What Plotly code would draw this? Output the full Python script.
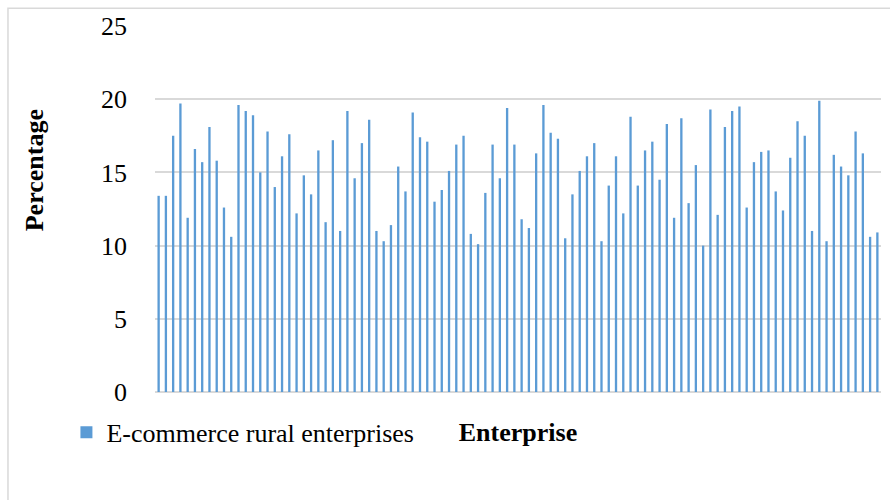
import plotly.graph_objects as go

# Share of e-commerce activity for each rural enterprise (percent)
enterprise_ids = list(range(1, 101))
ecommerce_pct = [
    13.4, 13.4, 17.5, 19.7, 11.9, 16.6, 15.7, 18.1, 15.8, 12.6,
    10.6, 19.6, 19.2, 18.9, 15.0, 17.8, 14.0, 16.1, 17.6, 12.2,
    14.8, 13.5, 16.5, 11.6, 17.2, 11.0, 19.2, 14.6, 17.0, 18.6,
    11.0, 10.3, 11.4, 15.4, 13.7, 19.1, 17.4, 17.1, 13.0, 13.8,
    15.1, 16.9, 17.5, 10.8, 10.1, 13.6, 16.9, 14.6, 19.4, 16.9,
    11.8, 11.2, 16.3, 19.6, 17.7, 17.3, 10.5, 13.5, 15.1, 16.1,
    17.0, 10.3, 14.1, 16.1, 12.2, 18.8, 14.1, 16.5, 17.1, 14.5,
    18.3, 11.9, 18.7, 12.9, 15.5, 10.0, 19.3, 12.1, 18.1, 19.2,
    19.5, 12.6, 15.7, 16.4, 16.5, 13.7, 12.4, 16.0, 18.5, 17.5,
    11.0, 19.9, 10.3, 16.2, 15.4, 14.8, 17.8, 16.3, 10.6, 10.9,
]
y_ticks = [0, 5, 10, 15, 20, 25]

SERIF = "Liberation Serif, Times New Roman, serif"
BAR_BLUE = "#5b9bd5"
GRID = "#d9d9d9"

fig = go.Figure(
    go.Bar(
        x=enterprise_ids,
        y=ecommerce_pct,
        name="E-commerce rural enterprises",
        marker=dict(color=BAR_BLUE, line=dict(width=0)),
    )
)

fig.update_layout(
    width=890,
    height=500,
    margin=dict(l=155, r=9, t=26, b=108),
    paper_bgcolor="white",
    plot_bgcolor="white",
    bargap=0.68,
    font=dict(family=SERIF, size=26, color="#000000"),
    showlegend=True,
    legend=dict(
        orientation="h",
        x=-0.122,
        xanchor="left",
        y=-0.11,
        yanchor="middle",
        font=dict(family=SERIF, size=26, color="#000000"),
        bgcolor="rgba(0,0,0,0)",
    ),
    xaxis=dict(
        type="category",
        showticklabels=False,
        showgrid=False,
        zeroline=False,
        showline=False,
        ticks="",
        title=dict(
            text="<b>Enterprise</b>",
            font=dict(family=SERIF, size=26, color="#000000"),
            standoff=30,
        ),
    ),
    yaxis=dict(
        range=[0, 25],
        tickvals=y_ticks,
        ticktext=[str(v) for v in y_ticks],
        showgrid=True,
        gridcolor=GRID,
        gridwidth=1.5,
        zeroline=True,
        zerolinecolor=GRID,
        zerolinewidth=1.5,
        showline=False,
        ticks="",
        ticklabelstandoff=27,
        tickfont=dict(family=SERIF, size=26, color="#000000"),
    ),
    annotations=[
        dict(
            text="<b>Percentage</b>",
            textangle=-90,
            xref="paper",
            yref="paper",
            x=-0.1667,
            y=0.6057,
            xanchor="center",
            yanchor="middle",
            showarrow=False,
            font=dict(family=SERIF, size=26, color="#000000"),
        )
    ],
    shapes=[
        dict(
            type="rect",
            xref="paper",
            yref="paper",
            x0=-0.2025,
            y0=-0.31,
            x1=1.02,
            y1=1.0484,
            line=dict(color=GRID, width=1.5),
            fillcolor="rgba(0,0,0,0)",
            layer="below",
        )
    ],
)

fig.write_html("out.html")
